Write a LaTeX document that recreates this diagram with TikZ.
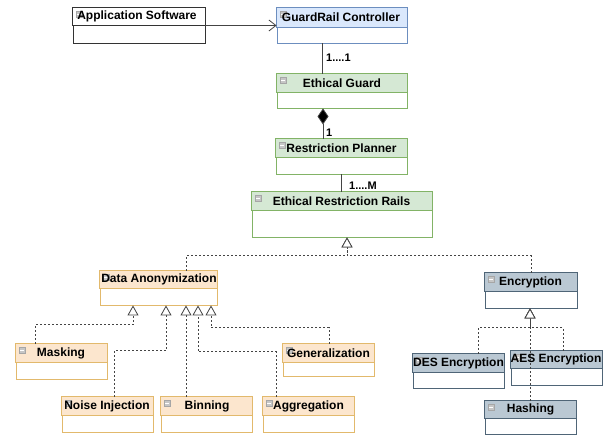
\documentclass[tikz,border=0pt]{standalone}
\usepackage{fontspec}
\setmainfont{Liberation Sans}
\usetikzlibrary{arrows.meta}
\definecolor{gfill}{HTML}{D5E8D4}\definecolor{gline}{HTML}{82B366}
\definecolor{bfill}{HTML}{DAE8FC}\definecolor{bline}{HTML}{6C8EBF}
\definecolor{ofill}{HTML}{FCE6CE}\definecolor{oline}{HTML}{E2B96C}
\definecolor{sfill}{HTML}{BAC8D3}\definecolor{sline}{HTML}{4F6577}
\definecolor{wfill}{HTML}{FFFFFF}\definecolor{wline}{HTML}{333333}
\definecolor{conn}{HTML}{444444}
\tikzset{
  clsbox/.style={rectangle, fill=white, inner sep=0pt, line width=0.9pt},
  title/.style={font=\bfseries\fontsize{12}{14}\selectfont, inner sep=0pt},
  lbl/.style={font=\bfseries\fontsize{11}{13}\selectfont, inner sep=0pt, anchor=west},
  plain/.style={draw=conn, line width=0.8pt},
  assoc/.style={draw=conn, line width=0.8pt, -{Straight Barb[length=7pt,width=11pt,line width=0.8pt]}},
  real/.style={draw=conn, line width=0.8pt, dash pattern=on 2pt off 2pt,
    -{Triangle[open,length=10pt,width=11pt,fill=white,line width=0.8pt]}},
}
% #1 name #2 kind #3 x1 #4 y1 #5 x2 #6 y2 #7 header bottom #8 text x #9 text
\newcommand\umlcls[9]{%
  \node[clsbox, draw=#2line, minimum width={(#5-#3)*1pt}, minimum height={(#6-#4)*1pt}]
    (#1) at ({(#3+#5)/2},{(#4+#6)/2}) {};
  \filldraw[draw=#2line, fill=#2fill, line width=0.9pt] (#1.north west) rectangle (#5,#7);
  \filldraw[fill=gray!45, draw=gray!70, line width=0.4pt] (#3+3,#4+3) rectangle ++(6,6);
  \draw[white, line width=0.7pt] (#3+4.2,#4+6) -- ++(3.6,0);
  \node[title] (#1-t) at (#8,{(#4+#7)/2}) {#9};
}
\begin{document}
\begin{tikzpicture}[x=1pt,y=-1pt]
\fill[white] (0,0) rectangle (608,436);
\useasboundingbox (0,0) rectangle (608,436);

\umlcls{app}{w}{73}{8}{205}{43}{25}{137}{Application Software}
\umlcls{grc}{b}{277}{8}{407}{43}{27}{341}{GuardRail Controller}
\umlcls{eg}{g}{277}{74}{407}{108}{92}{342}{Ethical Guard}
\umlcls{rp}{g}{276}{139}{407}{174}{157}{341.5}{Restriction Planner}
\umlcls{err}{g}{252}{192}{432}{237}{210}{341.5}{Ethical Restriction Rails}

\umlcls{da}{o}{100}{271}{217}{305}{288}{159}{Data Anonymization}
\umlcls{mask}{o}{16}{344}{107}{379}{362}{61}{Masking}
\umlcls{gen}{o}{283}{344}{374}{376}{362}{328.5}{Generalization}
\umlcls{noise}{o}{62}{397}{153}{432}{415}{107}{Noise Injection}
\umlcls{bin}{o}{161}{397}{252}{432}{415}{207}{Binning}
\umlcls{agg}{o}{263}{397}{354}{432}{415}{308.5}{Aggregation}

\umlcls{enc}{s}{485}{273}{577}{308}{291}{530.5}{Encryption}
\umlcls{des}{s}{413}{354}{504}{388}{372}{458.5}{DES Encryption}
\umlcls{aes}{s}{511}{351}{602}{385}{368}{556}{AES Encryption}
\umlcls{hash}{s}{485}{401}{576}{434}{418}{530.5}{Hashing}

% associations
\draw[assoc] (app.east) -- (grc.west);
\draw[plain] ([xshift=-20pt]grc.south) -- ([xshift=-20pt]grc.south |- eg.north);
\node[lbl] (m1) at (326,58) {1....1};
\draw[plain, {Diamond[length=16pt,width=11pt,fill=black]}-] ([xshift=-19pt]eg.south) -- ([xshift=-19pt]eg.south |- rp.north);
\node[lbl] (m2) at (326,133) {1};
\draw[plain] (rp.south) -- (rp.south |- err.north);
\node[lbl] (m3) at (349,186) {1....M};

% realizations to ERR
\draw[real] ([xshift=27.5pt]da.north) -- ++(0,-15) -| ([xshift=5pt]err.south);
\draw[real] (enc.north) -- ++(0,-17) -| ([xshift=5pt]err.south);

% DA children
\draw[real] ([xshift=-26.5pt]mask.north) -- ++(0,-19) -| ([xshift=-25.5pt]da.south);
\draw[real] ([xshift=6.5pt]noise.north) -- ++(0,-46) -| ([xshift=7.5pt]da.south);
\draw[real] ([xshift=-20.5pt]bin.north) -- ([xshift=-20.5pt]bin.north |- da.south);
\draw[real] ([xshift=-32.5pt]agg.north) -- ++(0,-45) -| ([xshift=39.5pt]da.south);
\draw[real] ([xshift=0.5pt]gen.north) -- ++(0,-16) -| ([xshift=52.5pt]da.south);

% Encryption children
\draw[real] ([xshift=19.5pt]des.north) -- ++(0,-26) -| ([xshift=-1pt]enc.south);
\draw[real] ([xshift=6.5pt]aes.north) -- ++(0,-23) -| ([xshift=-1pt]enc.south);
\draw[real] ([xshift=-0.5pt]hash.north) -- ([xshift=-0.5pt]hash.north |- enc.south);
\end{tikzpicture}
\end{document}
